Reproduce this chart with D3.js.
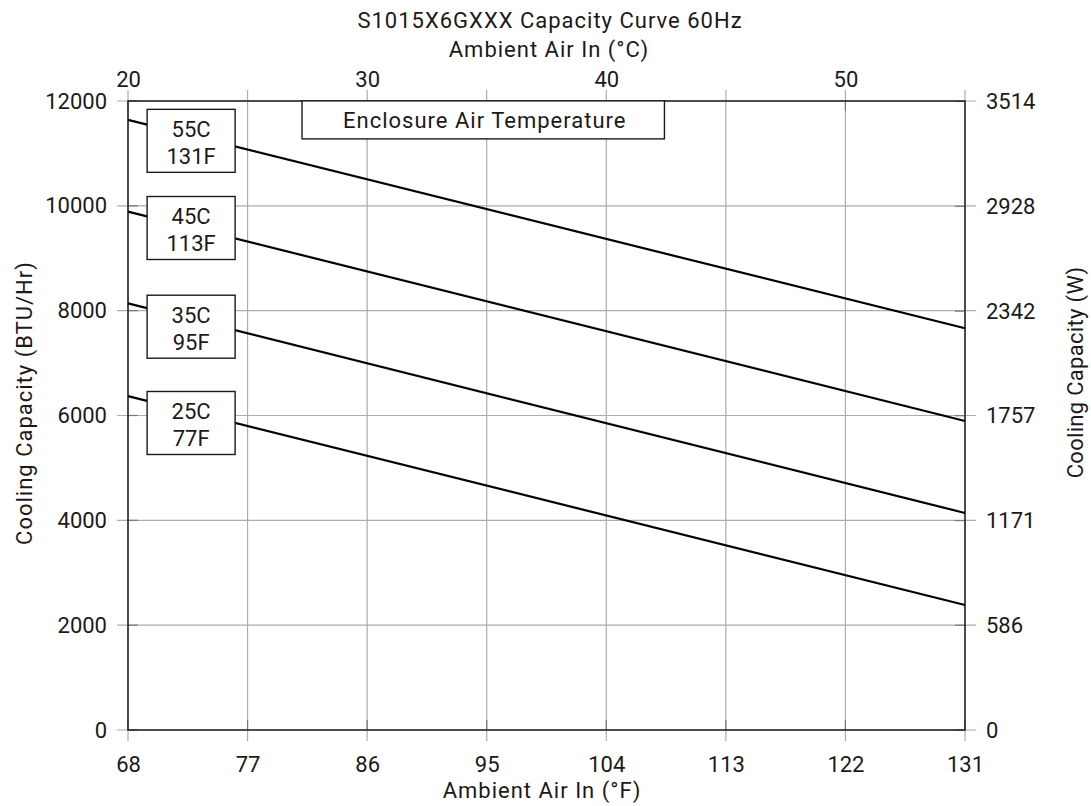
<!DOCTYPE html>
<html>
<head>
<meta charset="utf-8">
<script src="https://cdn.jsdelivr.net/npm/d3@7"></script>
<style>
  html, body { margin: 0; padding: 0; background: #fff; }
  svg { display: block; font-family: Roboto, "Noto Sans", sans-serif; }
</style>
</head>
<body>
<svg id="chart" width="1091" height="806"></svg>
<script>
// ---- Data ----
const ambientF = [68, 131];                       // x-extent of each curve (°F)
const seriesNames = ["55C", "45C", "35C", "25C"];
const seriesSub = ["131F", "113F", "95F", "77F"];
const capacity55 = [11640, 7665];                  // BTU/Hr at 68°F and 131°F
const capacity45 = [9890, 5895];
const capacity35 = [8140, 4140];
const capacity25 = [6370, 2385];
const labelAnchorF = [72.75, 72.75, 72.75, 72.75]; // label box centres (°F)
const labelAnchorBTU = [11240, 9577, 7694, 5857];  // label box centres (BTU/Hr)
const xTicksF = [68, 77, 86, 95, 104, 113, 122, 131];
const xTicksC = [20, 30, 40, 50];
const yTicksBTU = [0, 2000, 4000, 6000, 8000, 10000, 12000];
const yTicksW = [0, 586, 1171, 1757, 2342, 2928, 3514];
const legendTitle = "Enclosure Air Temperature";
const legendAnchor = [81.1, 11640];                // left edge °F, centre BTU

// ---- Layout ----
const W = 1091, H = 806;
const m = { left: 128, right: 126, top: 101, bottom: 76 };
const svg = d3.select("#chart");
const iw = W - m.left - m.right, ih = H - m.top - m.bottom;
const g = svg.append("g").attr("transform", `translate(${m.left},${m.top})`);

const x = d3.scaleLinear().domain([68, 131]).range([0, iw]);
const xc = d3.scaleLinear().domain([(68 - 32) * 5 / 9, (131 - 32) * 5 / 9]).range([0, iw]);
const y = d3.scaleLinear().domain([0, 12000]).range([ih, 0]);
const yw = d3.scaleLinear().domain([0, 12000 / 3.41214]).range([ih, 0]);

const gridColor = "#acacac", innerTick = "#777777", ext = 11, fs = 22, ls = "1px";

// Grid lines (extending beyond the frame as outer ticks)
g.append("g").selectAll("line").data(xTicksF).join("line")
  .attr("x1", d => x(d)).attr("x2", d => x(d))
  .attr("y1", -ext).attr("y2", ih + ext)
  .attr("stroke", gridColor).attr("stroke-width", 1.2);
g.append("g").selectAll("line").data(yTicksBTU).join("line")
  .attr("y1", d => y(d)).attr("y2", d => y(d))
  .attr("x1", -ext).attr("x2", iw + ext)
  .attr("stroke", gridColor).attr("stroke-width", 1.2);

// Inner ticks (darker)
const tl = 10;
g.append("g").selectAll("line").data(xTicksF).join("line")
  .attr("x1", d => x(d)).attr("x2", d => x(d)).attr("y1", ih).attr("y2", ih - tl)
  .attr("stroke", innerTick).attr("stroke-width", 1.2);
g.append("g").selectAll("line").data(xTicksC).join("line")
  .attr("x1", d => xc(d)).attr("x2", d => xc(d)).attr("y1", 0).attr("y2", tl)
  .attr("stroke", innerTick).attr("stroke-width", 1.2);
g.append("g").selectAll("line").data(yTicksBTU).join("line")
  .attr("y1", d => y(d)).attr("y2", d => y(d)).attr("x1", 0).attr("x2", tl)
  .attr("stroke", innerTick).attr("stroke-width", 1.2);
g.append("g").selectAll("line").data(yTicksW).join("line")
  .attr("y1", d => yw(d)).attr("y2", d => yw(d)).attr("x1", iw).attr("x2", iw - tl)
  .attr("stroke", innerTick).attr("stroke-width", 1.2);

// Axes (labels only, using d3 axes)
function styleAxis(sel) {
  sel.select(".domain").remove();
  sel.selectAll(".tick line").remove();
  sel.selectAll("text").attr("font-size", fs).attr("fill", "#1a1a1a")
     .attr("font-family", "Roboto, 'Noto Sans', sans-serif");
}
g.append("g").attr("transform", `translate(0,${ih})`)
  .call(d3.axisBottom(x).tickValues(xTicksF).tickFormat(d3.format("d")).tickSize(0).tickPadding(26))
  .call(styleAxis);
g.append("g")
  .call(d3.axisTop(xc).tickValues(xTicksC).tickFormat(d3.format("d")).tickSize(0).tickPadding(14))
  .call(styleAxis);
g.append("g")
  .call(d3.axisLeft(y).tickValues(yTicksBTU).tickFormat(d3.format("d")).tickSize(0).tickPadding(21))
  .call(styleAxis);
g.append("g").attr("transform", `translate(${iw},0)`)
  .call(d3.axisRight(yw).tickValues(yTicksW).tickFormat(d3.format("d")).tickSize(0).tickPadding(21))
  .call(styleAxis);

// Frame
g.append("rect").attr("x", 0).attr("y", 0).attr("width", iw).attr("height", ih)
  .attr("fill", "none").attr("stroke", "#2a2a2a").attr("stroke-width", 1.6);

// Lines
const series = [capacity55, capacity45, capacity35, capacity25];
const line = d3.line().x(d => x(d[0])).y(d => y(d[1]));
g.append("g").selectAll("path").data(series).join("path")
  .attr("d", s => line(ambientF.map((f, i) => [f, s[i]])))
  .attr("fill", "none").attr("stroke", "#000").attr("stroke-width", 2.2);

// Series label boxes
const bw = 88, bh = 63;
const lab = g.append("g").selectAll("g").data(seriesNames).join("g")
  .attr("transform", (d, i) => `translate(${x(labelAnchorF[i])},${y(labelAnchorBTU[i])})`);
lab.append("rect").attr("x", -bw / 2).attr("y", -bh / 2).attr("width", bw).attr("height", bh)
  .attr("fill", "#fff").attr("stroke", "#1a1a1a").attr("stroke-width", 1.4);
lab.append("text").attr("text-anchor", "middle").attr("y", -4).attr("font-size", fs).attr("fill", "#1a1a1a")
  .text(d => d);
lab.append("text").attr("text-anchor", "middle").attr("y", 23).attr("font-size", fs).attr("fill", "#1a1a1a")
  .text((d, i) => seriesSub[i]);

// Legend title box
const lg = g.append("g").attr("transform", `translate(${x(legendAnchor[0])},${y(legendAnchor[1])})`);
const lt = lg.append("text").attr("x", 41).attr("y", 8).attr("font-size", fs).attr("fill", "#1a1a1a")
  .style("letter-spacing", ls).text(legendTitle);
const tw = lt.node().getComputedTextLength();
lg.insert("rect", "text").attr("x", 0).attr("y", -19).attr("width", tw + 79).attr("height", 38)
  .attr("fill", "#fff").attr("stroke", "#1a1a1a").attr("stroke-width", 1.4);

// Titles
function title(t, sp) {
  return t.attr("text-anchor", "middle").attr("font-size", fs).attr("fill", "#1a1a1a").style("letter-spacing", sp || ls);
}
title(svg.append("text").attr("x", 550).attr("y", 28)).text("S1015X6GXXX Capacity Curve 60Hz");
title(svg.append("text").attr("x", 549).attr("y", 57)).text("Ambient Air In (°C)");
title(svg.append("text").attr("x", 542).attr("y", 798)).text("Ambient Air In (°F)");
title(svg.append("text").attr("transform", `translate(32,403) rotate(-90)`)).text("Cooling Capacity (BTU/Hr)");
title(svg.append("text").attr("transform", `translate(1083,372.5) rotate(-90)`), "0.3px").text("Cooling Capacity (W)");
</script>
</body>
</html>
